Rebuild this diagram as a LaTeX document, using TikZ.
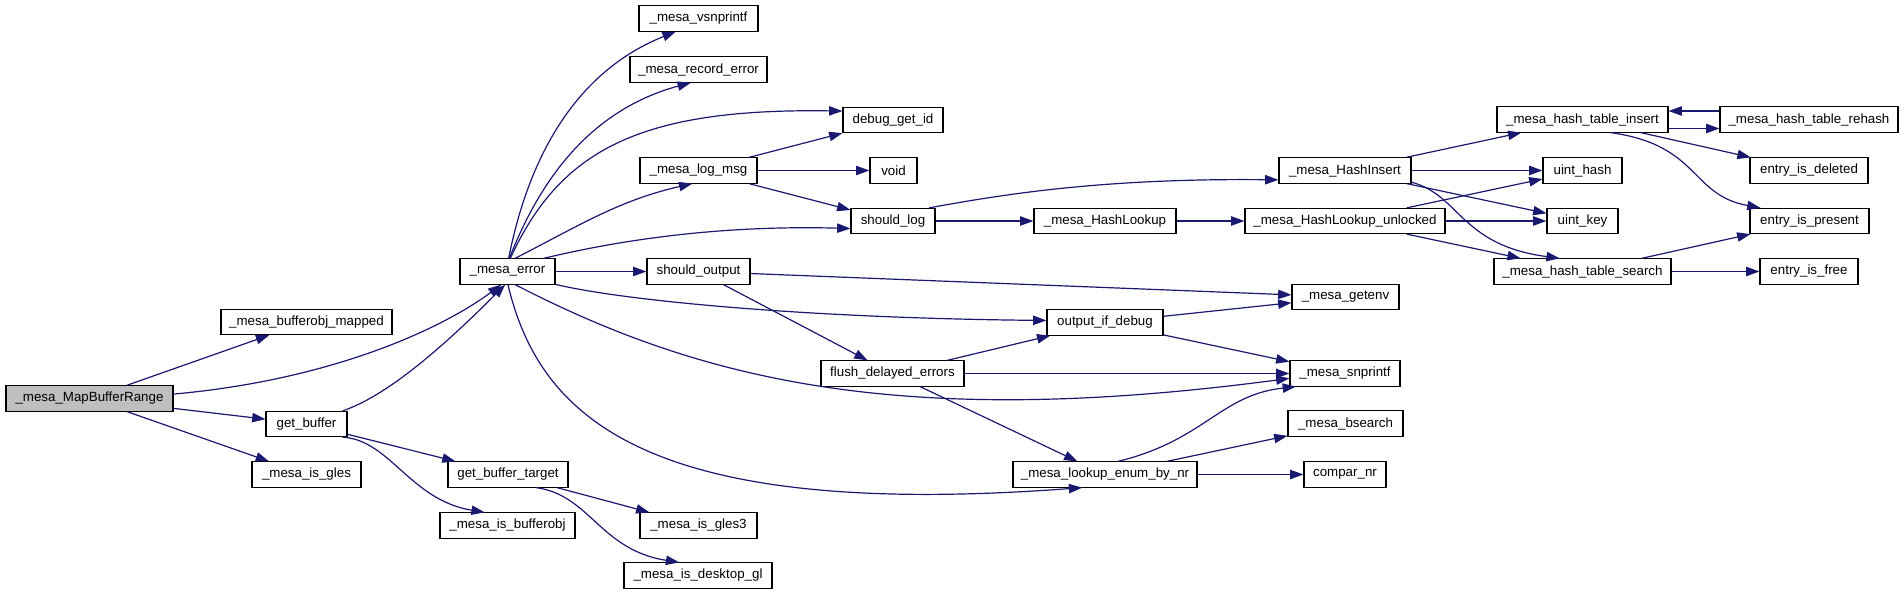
\documentclass[tikz,border=0pt]{standalone}
\usepackage{fontspec}
\setmainfont{Liberation Sans}
\usetikzlibrary{arrows.meta,calc}
\definecolor{edgec}{HTML}{191970}
\definecolor{rootfill}{HTML}{BFBFBF}
\begin{document}
\begin{tikzpicture}[x=0.75pt,y=-0.75pt,
  fn/.style={draw=black, line width=0.8pt, fill=white, inner sep=0pt,
    minimum height=18.9pt, font=\fontsize{10}{12}\selectfont},
  bw/.style={minimum width=#1*0.75pt},
  ed/.style={draw=edgec, line width=0.9pt, -{Triangle[length=10pt,width=7pt]}}]
\useasboundingbox[fill=white] (0,0) rectangle (1904,595);

% nodes
\node[fn,bw=167,fill=rootfill] (map) at (89.5,398.5) {\_mesa\_MapBufferRange};
\node[fn,bw=171] (bufmapped) at (306.5,322) {\_mesa\_bufferobj\_mapped};
\node[fn,bw=81] (getbuf) at (306.5,424) {get\_buffer};
\node[fn,bw=109] (isgles) at (306.5,474.5) {\_mesa\_is\_gles};
\node[fn,bw=95] (error) at (507.5,271.5) {\_mesa\_error};
\node[fn,bw=120] (gbt) at (508,474.5) {get\_buffer\_target};
\node[fn,bw=135] (isbufobj) at (507.5,525.5) {\_mesa\_is\_bufferobj};
\node[fn,bw=119] (vsnprintf) at (698.5,18.5) {\_mesa\_vsnprintf};
\node[fn,bw=137] (recerr) at (698.5,69.5) {\_mesa\_record\_error};
\node[fn,bw=117] (logmsg) at (698.5,170.5) {\_mesa\_log\_msg};
\node[fn,bw=103] (shouldout) at (698.5,271.5) {should\_output};
\node[fn,bw=117] (isgles3) at (698.5,525.5) {\_mesa\_is\_gles3};
\node[fn,bw=148] (isdesk) at (698,575.5) {\_mesa\_is\_desktop\_gl};
\node[fn,bw=100] (dbgid) at (893,120) {debug\_get\_id};
\node[fn,bw=47] (void) at (893.5,170.5) {void};
\node[fn,bw=84] (shouldlog) at (893,221) {should\_log};
\node[fn,bw=143] (flush) at (892.5,373.5) {flush\_delayed\_errors};
\node[fn,bw=142] (hashlookup) at (1105,221) {\_mesa\_HashLookup};
\node[fn,bw=116] (outdbg) at (1105,322.5) {output\_if\_debug};
\node[fn,bw=184] (lookupenum) at (1105,474.5) {\_mesa\_lookup\_enum\_by\_nr};
\node[fn,bw=132] (hashinsert) at (1345,170.5) {\_mesa\_HashInsert};
\node[fn,bw=200] (hlu) at (1345,221) {\_mesa\_HashLookup\_unlocked};
\node[fn,bw=107] (getenv) at (1345.5,297) {\_mesa\_getenv};
\node[fn,bw=110] (snprintf) at (1345,373.5) {\_mesa\_snprintf};
\node[fn,bw=115] (bsearch) at (1345.5,423.5) {\_mesa\_bsearch};
\node[fn,bw=82] (comparnr) at (1345,474.5) {compar\_nr};
\node[fn,bw=171] (hti) at (1582.5,119.5) {\_mesa\_hash\_table\_insert};
\node[fn,bw=79] (uhash) at (1582.5,170.5) {uint\_hash};
\node[fn,bw=71] (ukey) at (1582.5,221) {uint\_key};
\node[fn,bw=177] (hts) at (1582.5,271.5) {\_mesa\_hash\_table\_search};
\node[fn,bw=178] (rehash) at (1809,119.5) {\_mesa\_hash\_table\_rehash};
\node[fn,bw=118] (deleted) at (1809,170.5) {entry\_is\_deleted};
\node[fn,bw=119] (present) at (1809.5,221) {entry\_is\_present};
\node[fn,bw=98] (free) at (1809,271.5) {entry\_is\_free};

% edges from _mesa_MapBufferRange
\draw[ed] (map) -- (bufmapped);
\draw[ed] (map.3) .. controls (330,380) and (440,330) .. (error.-115);
\draw[ed] (map) -- (getbuf);
\draw[ed] (map) -- (isgles);

% get_buffer
\draw[ed] (getbuf.20) .. controls (390,395) and (450,340) .. (error.-100);
\draw[ed] (getbuf) -- (gbt);
\draw[ed] (getbuf.-20) .. controls (390,440) and (410,500) .. (isbufobj.150);

% get_buffer_target
\draw[ed] (gbt) -- (isgles3);
\draw[ed] (gbt.-25) .. controls (590,495) and (600,550) .. (isdesk.145);

% _mesa_error
\draw[ed] (error.85) .. controls (530,150) and (580,70) .. (vsnprintf.-150);
\draw[ed] (error.82) .. controls (540,180) and (590,110) .. (recerr.-120);
\draw[ed] (error.78) .. controls (560,150) and (640,108) .. (dbgid.170);
\draw[ed] (error.60) .. controls (580,225) and (620,200) .. (logmsg.-115);
\draw[ed] (error.20) .. controls (620,240) and (720,225) .. (shouldlog.190);
\draw[ed] (error) -- (shouldout);
\draw[ed] (error.-15) .. controls (620,300) and (800,318) .. (outdbg.178);
\draw[ed] (error.-60) .. controls (700,380) and (900,430) .. (snprintf.-175);
\draw[ed] (error.-88) .. controls (540,420) and (650,520) .. (lookupenum.-150);

% _mesa_log_msg
\draw[ed] (logmsg) -- (dbgid);
\draw[ed] (logmsg) -- (void);
\draw[ed] (logmsg) -- (shouldlog);

% should_log
\draw[ed] (shouldlog.20) .. controls (1000,195) and (1100,178) .. (hashinsert.188);
\draw[ed] (shouldlog) -- (hashlookup);
\draw[ed] (hashlookup) -- (hlu);

% should_output
\draw[ed] (shouldout) -- (getenv);
\draw[ed] (shouldout) -- (flush);

% flush_delayed_errors
\draw[ed] (flush) -- (outdbg);
\draw[ed] (flush) -- (snprintf);
\draw[ed] (flush) -- (lookupenum);

% output_if_debug
\draw[ed] (outdbg) -- (getenv);
\draw[ed] (outdbg) -- (snprintf);

% _mesa_lookup_enum_by_nr
\draw[ed] (lookupenum.45) .. controls (1205,440) and (1220,395) .. (snprintf.-165);
\draw[ed] (lookupenum) -- (bsearch);
\draw[ed] (lookupenum) -- (comparnr);

% _mesa_HashInsert
\draw[ed] (hashinsert) -- (hti);
\draw[ed] (hashinsert) -- (uhash);
\draw[ed] (hashinsert) -- (ukey);
\draw[ed] (hashinsert.-10) .. controls (1460,195) and (1460,245) .. (hts.150);

% _mesa_HashLookup_unlocked
\draw[ed] (hlu) -- (uhash);
\draw[ed] (hlu) -- (ukey);
\draw[ed] (hlu) -- (hts);

% _mesa_hash_table_insert
\draw[ed] ($(hti.east)+(0,9)$) -- ($(rehash.west)+(0,9)$);
\draw[ed] ($(rehash.west)+(0,-8.5)$) -- ($(hti.east)+(0,-8.5)$);
\draw[ed] (hti) -- (deleted);
\draw[ed] (hti.-25) .. controls (1700,145) and (1690,195) .. (present.165);

% _mesa_hash_table_search
\draw[ed] (hts) -- (present);
\draw[ed] (hts) -- (free);
\end{tikzpicture}
\end{document}
